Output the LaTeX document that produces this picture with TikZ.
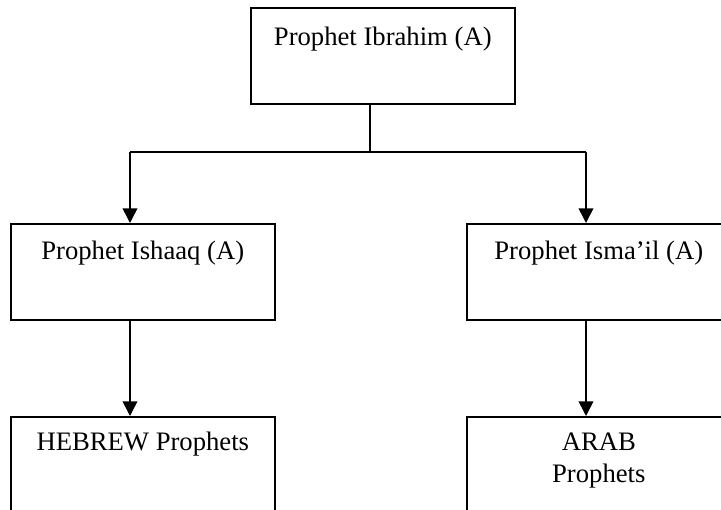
\documentclass[tikz,border=0pt]{standalone}
\usepackage{fontspec}
\setmainfont{Liberation Serif}
\usetikzlibrary{arrows.meta}
\newcommand\pbtext[2]{\parbox[t][72pt][t]{198pt}{\centering\rule{0pt}{#1}#2}}
\begin{document}
\begin{tikzpicture}[x=0.75pt,y=-0.75pt,
  pbox/.style={draw, line width=1.2pt, inner sep=0pt, anchor=north west,
    font=\fontsize{20}{24}\selectfont},
  arr/.style={line width=1.2pt, -{Triangle[length=11pt,width=11pt]}},
  link/.style={line width=1.2pt}]
\useasboundingbox (0,0) rectangle (721,510);
\clip (0,0) rectangle (721,510);
\node[pbox] (ibr) at (250,7) {\pbtext{28pt}{Prophet Ibrahim (A)}};
\node[pbox] (ish) at (10,223) {\pbtext{27pt}{Prophet Ishaaq (A)}};
\node[pbox] (ism) at (466,223) {\pbtext{27pt}{Prophet Isma’il (A)}\hspace{30pt}};
\node[pbox] (heb) at (10,416) {\pbtext{25.5pt}{HEBREW Prophets}};
\node[pbox] (arab) at (466,416) {\pbtext{25.5pt}{ARAB\\Prophets}\hspace{30pt}};
\coordinate (split) at (370,152);
\coordinate (lj) at (130,152);
\coordinate (rj) at (586,152);
\draw[link] (ibr.south -| split) -- (split);
\draw[link] (lj) -- (rj);
\draw[arr] (lj) -- (lj |- ish.north);
\draw[arr] (rj) -- (rj |- ism.north);
\draw[arr] (ish.south -| lj) -- (heb.north -| lj);
\draw[arr] (ism.south -| rj) -- (arab.north -| rj);
\end{tikzpicture}
\end{document}
